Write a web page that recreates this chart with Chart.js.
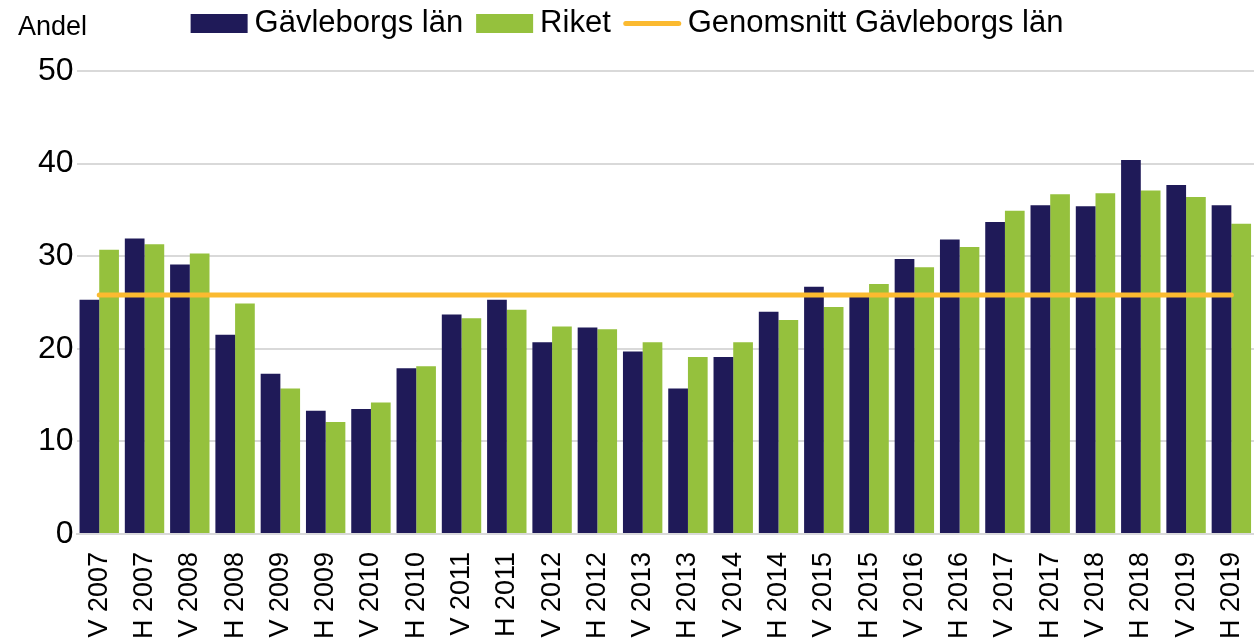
<!DOCTYPE html>
<html>
<head>
<meta charset="utf-8">
<script src="https://cdn.jsdelivr.net/npm/chart.js@4/dist/chart.umd.min.js"></script>
<style>
html,body{margin:0;padding:0;background:#fff;overflow:hidden;}
#wrap{width:1254px;height:644px;position:relative;}
</style>
</head>
<body>
<div id="wrap"><canvas id="c" width="1254" height="644"></canvas></div>
<script>
const categories = ["V 2007","H 2007","V 2008","H 2008","V 2009","H 2009","V 2010","H 2010","V 2011","H 2011","V 2012","H 2012","V 2013","H 2013","V 2014","H 2014","V 2015","H 2015","V 2016","H 2016","V 2017","H 2017","V 2018","H 2018","V 2019","H 2019"];
const gavleborg = [25.3,31.9,29.1,21.5,17.3,13.3,13.5,17.9,23.7,25.3,20.7,22.3,19.7,15.7,19.1,24.0,26.7,25.9,29.7,31.8,33.7,35.5,35.4,40.4,37.7,35.5];
const riket = [30.7,31.3,30.3,24.9,15.7,12.1,14.2,18.1,23.3,24.2,22.4,22.1,20.7,19.1,20.7,23.1,24.5,27.0,28.8,31.0,34.9,36.7,36.8,37.1,36.4,33.5];
const genomsnittValue = 25.8;
const genomsnitt = categories.map(() => genomsnittValue);
const yTicks = [0,10,20,30,40,50];

const FONT = "'Liberation Sans', Arial, sans-serif";

const customLegend = {
  id: 'customLegend',
  afterDraw(chart) {
    const ctx = chart.ctx;
    const ds = chart.data.datasets;
    const order = [0,1,2];
    const boxW = 57, boxH = 19, gapText = 7, gapItem = 13;
    ctx.save();
    ctx.font = "31px " + FONT;
    ctx.textBaseline = 'middle';
    const widths = order.map(i => ctx.measureText(ds[i].label).width);
    let total = 0;
    order.forEach((i, k) => { total += boxW + gapText + widths[k]; if (k < order.length - 1) total += gapItem; });
    let x = chart.width / 2 - total / 2;
    const cy = 23.5;
    order.forEach((i, k) => {
      const d = ds[i];
      if (d.type === 'line') {
        ctx.strokeStyle = d.borderColor;
        ctx.lineWidth = 5;
        ctx.lineCap = 'round';
        ctx.beginPath();
        ctx.moveTo(x + 2, cy);
        ctx.lineTo(x + boxW - 2, cy);
        ctx.stroke();
      } else {
        ctx.fillStyle = d.backgroundColor;
        ctx.fillRect(x, cy - boxH / 2, boxW, boxH);
      }
      x += boxW + gapText;
      ctx.fillStyle = '#000';
      ctx.fillText(d.label, x, cy);
      x += widths[k] + gapItem;
    });
    ctx.font = "27px " + FONT;
    ctx.textBaseline = 'alphabetic';
    ctx.fillText('Andel', 18, 35);
    ctx.restore();
  }
};

new Chart(document.getElementById('c'), {
  type: 'bar',
  data: {
    labels: categories,
    datasets: [
      { label: 'Gävleborgs län', data: gavleborg, backgroundColor: '#1F1A58', borderWidth: 0, order: 2 },
      { label: 'Riket', data: riket, backgroundColor: '#95C13D', borderWidth: 0, order: 2 },
      { type: 'line', label: 'Genomsnitt Gävleborgs län', data: genomsnitt, borderColor: '#FBBA30', backgroundColor: '#FBBA30', borderWidth: 5, pointRadius: 0, borderCapStyle: 'round', fill: false, order: 1 }
    ]
  },
  options: {
    responsive: false,
    animation: false,
    devicePixelRatio: 1,
    layout: { padding: { top: 71, left: 35, right: 0, bottom: -13 } },
    datasets: { bar: { categoryPercentage: 0.87, barPercentage: 1.0 } },
    plugins: { legend: { display: false }, tooltip: { enabled: false } },
    scales: {
      x: {
        afterFit(axis) { axis.paddingRight = 0; axis.paddingLeft = 0; },
        grid: { display: false, drawTicks: false },
        border: { display: true, color: '#d9d9d9', width: 2 },
        ticks: { color: '#000', font: { family: FONT, size: 27 }, minRotation: 90, maxRotation: 90, padding: 18, autoSkip: false }
      },
      y: {
        min: 0, max: 50,
        afterBuildTicks(axis) { axis.ticks = yTicks.map(v => ({ value: v })); },
        grid: { color: '#d9d9d9', lineWidth: 2, drawTicks: false },
        border: { display: false },
        ticks: { color: '#000', font: { family: FONT, size: 32 }, padding: 3 }
      }
    }
  },
  plugins: [customLegend]
});
</script>
</body>
</html>
